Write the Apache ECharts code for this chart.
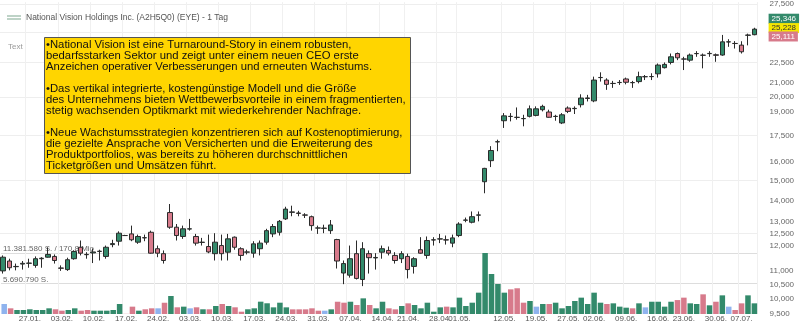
<!DOCTYPE html>
<html>
<head>
<meta charset="utf-8">
<script src="https://cdn.jsdelivr.net/npm/echarts@6/dist/echarts.min.js"></script>
<style>
  html, body { margin: 0; padding: 0; background: #fff; }
  #chart { width: 800px; height: 328px; }
</style>
</head>
<body>
<div id="chart"></div>
<script>
// Kursdaten National Vision (EYE), Tageskerzen 21.01. - 09.07.
var startDate = '2025-01-21';
var endDate = '2025-07-09';
var holidays = ['2025-04-18', '2025-05-26', '2025-06-19', '2025-07-04'];

var labelDates = ['27.01.', '03.02.', '10.02.', '17.02.', '24.02.', '03.03.', '10.03.', '17.03.',
    '24.03.', '31.03.', '07.04.', '14.04.', '21.04.', '28.04.', '01.05.', '12.05.', '19.05.',
    '27.05.', '02.06.', '09.06.', '16.06.', '23.06.', '30.06.', '07.07.'];

// open, close, low, high
var candles = [
    [11.00, 11.53, 10.90, 11.60], [11.38, 11.12, 11.02, 11.47], [11.17, 11.16, 11.02, 11.28],
    [11.26, 11.29, 11.05, 11.38], [11.29, 11.30, 11.12, 11.47], [11.21, 11.47, 11.12, 11.56],
    [11.47, 11.49, 11.12, 11.53], [11.53, 11.64, 11.51, 11.93], [11.56, 11.40, 11.28, 11.64],
    [11.11, 11.10, 11.00, 11.21], [11.05, 11.43, 11.00, 11.51], [11.47, 11.76, 11.43, 11.80],
    [11.93, 11.69, 11.60, 12.21], [11.64, 11.63, 11.47, 11.73], [11.70, 11.74, 11.30, 11.88],
    [11.76, 11.77, 11.40, 11.83], [11.56, 11.93, 11.47, 12.00], [12.04, 12.08, 11.93, 12.24],
    [12.18, 12.52, 12.00, 12.60], [12.42, 12.42, 12.40, 12.45], [12.49, 12.24, 12.18, 12.85],
    [12.14, 12.38, 12.07, 12.46], [12.33, 12.32, 12.18, 12.46], [12.56, 11.69, 11.67, 12.63],
    [11.87, 11.69, 11.53, 12.00], [11.67, 11.40, 11.28, 11.80], [13.44, 12.78, 12.71, 13.84],
    [12.78, 12.42, 12.21, 12.92], [12.38, 12.71, 12.28, 12.85], [12.70, 12.71, 12.63, 13.15],
    [12.38, 12.10, 12.00, 12.49], [12.13, 12.14, 12.00, 12.32], [11.96, 11.74, 11.69, 12.46],
    [11.67, 12.14, 11.40, 12.52], [12.00, 11.67, 11.40, 12.46], [11.73, 12.28, 11.40, 12.49],
    [12.35, 11.93, 11.83, 12.38], [11.87, 11.60, 11.40, 11.93], [11.73, 11.74, 11.64, 11.83],
    [11.69, 12.07, 11.51, 12.18], [11.87, 12.10, 11.60, 12.21], [12.14, 12.63, 12.04, 12.71],
    [12.49, 12.81, 12.35, 12.92], [12.56, 13.04, 12.42, 13.10], [13.15, 13.60, 13.10, 13.71],
    [13.45, 13.47, 13.27, 13.76], [13.42, 13.40, 13.27, 13.52], [13.33, 13.32, 13.19, 13.41],
    [13.25, 12.85, 12.63, 13.30], [12.75, 12.74, 12.49, 12.85], [12.73, 12.74, 12.52, 12.89],
    [12.63, 12.88, 12.49, 13.10], [12.25, 11.38, 11.09, 12.28], [10.92, 11.28, 10.51, 11.40],
    [10.84, 11.47, 10.75, 12.00], [11.67, 10.72, 10.68, 12.21], [10.68, 11.87, 10.44, 12.14],
    [11.67, 11.51, 10.90, 11.80], [11.50, 11.52, 11.05, 11.69], [11.73, 11.87, 11.47, 12.00],
    [11.80, 11.69, 11.60, 11.96], [11.60, 11.40, 11.28, 11.73], [11.47, 11.67, 11.30, 11.77],
    [11.56, 11.05, 10.72, 11.67], [11.17, 11.47, 10.90, 11.53], [11.83, 11.69, 11.67, 12.35],
    [11.60, 12.21, 11.47, 12.38], [12.23, 12.24, 12.00, 12.35], [12.27, 12.28, 12.10, 12.49],
    [12.24, 12.23, 12.04, 12.42], [12.10, 12.32, 11.93, 12.46], [12.42, 12.92, 12.35, 13.00],
    [13.09, 13.10, 13.00, 13.21], [13.00, 13.25, 12.95, 13.49], [13.32, 13.33, 13.04, 13.49],
    [14.94, 15.64, 14.36, 15.67], [16.06, 16.63, 15.71, 16.88], [17.13, 17.14, 16.59, 17.26],
    [18.42, 18.73, 17.97, 18.91], [18.69, 18.70, 18.38, 18.91], [18.64, 18.63, 18.49, 19.28],
    [18.55, 18.56, 18.07, 18.80], [18.70, 19.19, 18.63, 19.41], [18.76, 19.19, 18.70, 19.35],
    [19.13, 19.35, 19.02, 19.46], [18.98, 18.64, 18.61, 19.13], [18.69, 18.70, 18.42, 18.80],
    [18.28, 18.80, 18.21, 18.91], [19.24, 19.02, 18.91, 19.35], [19.20, 19.22, 18.85, 19.35],
    [19.46, 19.91, 19.28, 20.17], [19.88, 19.92, 19.68, 20.13], [19.72, 21.18, 19.63, 21.43],
    [21.36, 21.37, 21.07, 21.75], [21.18, 20.87, 20.48, 21.31], [20.94, 20.93, 20.62, 21.12],
    [21.00, 21.01, 20.83, 21.18], [21.26, 21.02, 20.87, 21.36], [20.99, 21.00, 20.62, 21.12],
    [21.07, 21.43, 20.94, 21.80], [21.42, 21.43, 21.18, 21.55], [21.43, 21.44, 21.18, 21.68],
    [21.64, 22.30, 21.36, 22.42], [22.10, 22.35, 22.04, 22.50], [22.50, 22.94, 22.35, 23.20],
    [23.20, 22.86, 22.68, 23.28], [22.76, 22.77, 21.92, 22.94], [22.68, 23.08, 22.55, 23.20],
    [23.19, 23.20, 22.94, 23.39], [23.06, 23.07, 22.05, 23.20], [23.19, 23.21, 22.94, 23.39],
    [23.10, 23.06, 22.55, 23.20], [23.08, 24.15, 23.02, 24.73], [24.14, 24.15, 23.74, 24.37],
    [24.02, 24.01, 23.60, 24.21], [23.88, 23.34, 23.20, 24.20], [24.70, 24.72, 23.86, 24.84],
    [24.75, 25.228, 24.70, 25.346]
];

// Stück pro Tag
var volumes = [
    1870000, 1060000, 750000, 750000, 880000, 750000, 750000, 1060000, 880000, 620000,
    750000, 1060000, 620000, 750000, 620000, 620000, 620000, 750000, 1870000, 30000,
    1370000, 620000, 880000, 1060000, 1060000, 2100000, 3360000, 1250000, 1370000, 1060000,
    1250000, 880000, 880000, 1490000, 1870000, 1490000, 1250000, 430000, 880000, 1060000,
    2300000, 2000000, 1240000, 2110000, 1240000, 870000, 870000, 870000, 1060000, 620000,
    620000, 870000, 2290000, 2110000, 2290000, 1680000, 2920000, 1680000, 1060000, 2290000,
    1060000, 870000, 1490000, 1990000, 1680000, 1060000, 2110000, 430000, 1240000, 1370000,
    1240000, 3050000, 1490000, 2110000, 3980000, 11381580, 7460000, 5600000, 3980000, 4600000,
    4800000, 2110000, 2430000, 1370000, 1870000, 1870000, 2110000, 1060000, 1490000, 2430000,
    3050000, 1870000, 3980000, 2110000, 1870000, 1990000, 1370000, 1180000, 1060000, 1990000,
    1240000, 2290000, 2290000, 1370000, 2290000, 2600000, 3050000, 1990000, 1870000, 3670000,
    1620000, 2290000, 3480000, 1370000, 750000, 1990000, 3480000, 1990000
];

var priceLabels = [27.5, 25, 22.5, 21, 20, 19, 17.5, 16, 15, 14, 13, 12.5, 12, 11, 10.5, 10, 9.5];
var priceGrid = [12.5, 15, 17.5, 20, 22.5, 25, 27.5];
var volumeLevels = [5690790, 11381580];
var turnoverText = '170,8 Mio';
var tagValues = [25.346, 25.228, 25.111];

var seriesName = 'National Vision Holdings Inc. (A2H5Q0) (EYE) - 1 Tag';
var noteText = [
    '•National Vision ist eine Turnaround-Story in einem robusten,',
    'bedarfsstarken Sektor und zeigt unter einem neuen CEO erste',
    'Anzeichen operativer Verbesserungen und erneuten Wachstums.',
    '',
    '•Das vertikal integrierte, kostengünstige Modell und die Größe',
    'des Unternehmens bieten Wettbewerbsvorteile in einem fragmentierten,',
    'stetig wachsenden Optikmarkt mit wiederkehrender Nachfrage.',
    '',
    '•Neue Wachstumsstrategien konzentrieren sich auf Kostenoptimierung,',
    'die gezielte Ansprache von Versicherten und die Erweiterung des',
    'Produktportfolios, was bereits zu höheren durchschnittlichen',
    'Ticketgrößen und Umsätzen führt.'
].join('\n');

// Handelstage
var dates = [];
var d = new Date(startDate + 'T12:00:00Z');
var end = new Date(endDate + 'T12:00:00Z');
while (d <= end) {
    var iso = d.toISOString().slice(0, 10);
    var wd = d.getUTCDay();
    if (wd !== 0 && wd !== 6 && holidays.indexOf(iso) < 0) {
        dates.push(iso.slice(8, 10) + '.' + iso.slice(5, 7) + '.');
    }
    d.setUTCDate(d.getUTCDate() + 1);
}

var GREEN = '#338a6b';
var PINK = '#d77a8b';
var BLUE = '#8fb3ee';

function germanNum(v) {
    return String(v).replace(/\B(?=(\d{3})+(?!\d))/g, '.');
}
function priceFmt(v) {
    return v.toFixed(3).replace('.', ',');
}
function isLabelDay(idx, val) {
    return labelDates.indexOf(val) >= 0;
}

var volData = volumes.map(function (v, i) {
    var c = BLUE;
    if (i > 0) {
        var diff = candles[i][1] - candles[i - 1][1];
        if (diff > 0) c = GREEN;
        else if (diff < 0) c = PINK;
    }
    return { value: v, itemStyle: { color: c } };
});

var tagStyles = [
    { backgroundColor: GREEN, color: '#fff', offset: [0, -9] },
    { backgroundColor: '#f5e600', color: '#333', offset: [0, -1] },
    { backgroundColor: PINK, color: '#fff', offset: [0, 6] }
];

var myChart = echarts.init(document.getElementById('chart'));

var option = {
    animation: false,
    textStyle: { fontFamily: 'Liberation Sans, Arial, sans-serif' },
    title: [
        {
            text: 'Text',
            left: 3, top: 38,
            textStyle: { fontSize: 8, fontWeight: 'normal', color: '#999' }
        },
        {
            text: noteText,
            left: 44, top: 37,
            backgroundColor: '#ffd500',
            borderColor: '#555',
            borderWidth: 1,
            padding: [2, 5, 3, 2],
            textStyle: { fontSize: 11.3, lineHeight: 11, fontWeight: 'normal', color: '#111' }
        }
    ],
    legend: {
        left: 2, top: 8,
        selectedMode: false,
        itemWidth: 14, itemHeight: 4, itemGap: 4,
        textStyle: { fontSize: 8.5, color: '#555' },
        itemStyle: { color: '#7fa88f', borderWidth: 0 },
        data: [{
            name: seriesName,
            icon: 'path://M0,0H14V1H0ZM0,3H14V4H0Z',
            itemStyle: { color: '#7fa88f', borderWidth: 0 }
        }]
    },
    grid: [
        { left: 0, top: 0, width: 757.6, height: 314 },
        { left: 0, top: 253, width: 757.6, height: 61 }
    ],
    xAxis: [
        {
            type: 'category', gridIndex: 0, data: dates,
            axisLine: { show: false }, axisTick: { show: false }, axisLabel: { show: false },
            splitLine: { show: true, interval: isLabelDay, lineStyle: { color: '#f0f0f0' } }
        },
        {
            type: 'category', gridIndex: 1, data: dates,
            axisLine: { show: false }, axisTick: { show: false },
            axisLabel: { interval: isLabelDay, fontSize: 8, color: '#555', margin: 1 },
            splitLine: { show: false }
        }
    ],
    yAxis: [
        {
            type: 'log', logBase: 10, gridIndex: 0, position: 'right',
            min: 9.487, max: 27.673,
            axisLine: { show: false },
            axisTick: { show: false, customValues: priceGrid },
            axisLabel: { customValues: priceLabels, formatter: priceFmt, fontSize: 8, color: '#666', margin: 12 },
            splitLine: { show: true, lineStyle: { color: '#eeeeee' } }
        },
        {
            type: 'value', gridIndex: 1, position: 'left',
            min: 0, max: volumeLevels[1],
            axisLine: { show: false },
            axisTick: { show: false, customValues: volumeLevels },
            axisLabel: {
                inside: true, customValues: volumeLevels, margin: 2,
                verticalAlign: 'bottom', fontSize: 8, color: '#666',
                formatter: function (v) {
                    var s = germanNum(v) + ' S.';
                    return v === volumeLevels[1] ? s + ' / ' + turnoverText : s;
                }
            },
            splitLine: { show: true, lineStyle: { color: '#dddddd' } }
        }
    ],
    series: [
        {
            name: 'Volumen', type: 'bar', xAxisIndex: 1, yAxisIndex: 1,
            data: volData, barWidth: '86%', z: 1
        },
        {
            name: seriesName, type: 'candlestick', xAxisIndex: 0, yAxisIndex: 0,
            data: candles, barWidth: 5, z: 3,
            itemStyle: {
                color: GREEN, color0: PINK,
                borderColor: '#2b2b2b', borderColor0: '#2b2b2b', borderWidth: 1
            },
            markLine: {
                silent: true,
                symbol: ['none', 'none'],
                lineStyle: { color: 'transparent' },
                data: tagValues.map(function (v, i) {
                    return {
                        yAxis: v,
                        label: {
                            show: true, position: 'end', distance: 11,
                            formatter: priceFmt(v),
                            fontSize: 8, padding: [1, 3],
                            color: tagStyles[i].color,
                            backgroundColor: tagStyles[i].backgroundColor,
                            offset: tagStyles[i].offset
                        }
                    };
                })
            }
        }
    ]
};

myChart.setOption(option);
</script>
</body>
</html>
